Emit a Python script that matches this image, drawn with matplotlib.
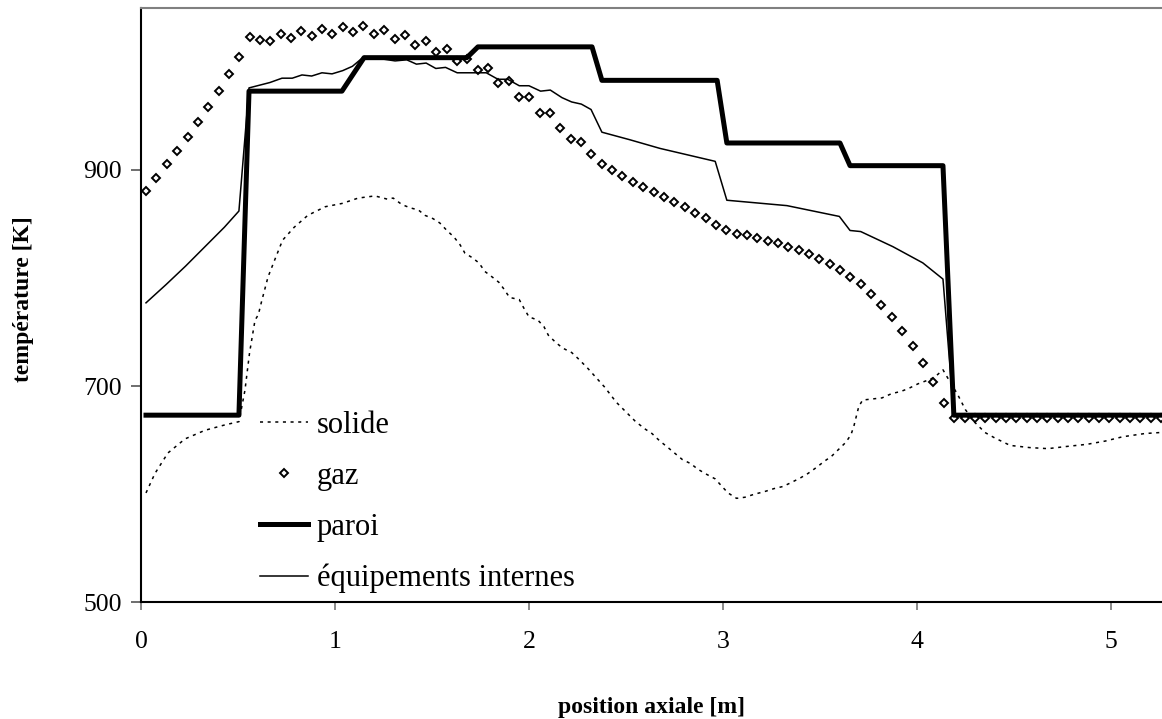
import matplotlib
matplotlib.use("Agg")
import matplotlib.pyplot as plt

plt.rcParams['font.family'] = ['Liberation Serif', 'DejaVu Serif']

# position axiale [m] et températures [K]
x_gaz = [0.026, 0.079, 0.133, 0.186, 0.240, 0.293, 0.346, 0.400, 0.453, 0.507,
         0.560, 0.613, 0.667, 0.720, 0.774, 0.827, 0.880, 0.934, 0.987, 1.041,
         1.094, 1.147, 1.201, 1.254, 1.308, 1.361, 1.414, 1.468, 1.521, 1.575,
         1.628, 1.681, 1.735, 1.788, 1.842, 1.895, 1.948, 2.002, 2.055, 2.109,
         2.162, 2.215, 2.269, 2.322, 2.376, 2.429, 2.482, 2.536, 2.589, 2.643,
         2.696, 2.749, 2.803, 2.856, 2.910, 2.963, 3.016, 3.070, 3.123, 3.177,
         3.230, 3.283, 3.337, 3.390, 3.444, 3.497, 3.550, 3.604, 3.657, 3.711,
         3.764, 3.817, 3.871, 3.924, 3.978, 4.031, 4.084, 4.138, 4.191, 4.245,
         4.298, 4.351, 4.405, 4.458, 4.512, 4.565, 4.618, 4.672, 4.725, 4.779,
         4.832, 4.885, 4.939, 4.992, 5.046, 5.099, 5.152, 5.206, 5.259]
t_gaz = [881, 893, 906, 918, 931, 944, 958, 973, 989, 1005,
         1023, 1020, 1019, 1026, 1022, 1029, 1024, 1031, 1026, 1032,
         1028, 1033, 1026, 1030, 1021, 1025, 1016, 1019, 1009, 1012,
         1001, 1003, 993, 994, 981, 982, 968, 968, 953, 953,
         939, 929, 926, 915, 906, 900, 894, 889, 884, 880,
         875, 870, 866, 860, 856, 849, 844, 841, 840, 837,
         834, 832, 829, 826, 822, 818, 813, 807, 801, 794,
         785, 775, 764, 751, 737, 721, 704, 684, 670, 670,
         670, 670, 670, 670, 670, 670, 670, 670, 670, 670,
         670, 670, 670, 670, 670, 670, 670, 670, 670]

x_solide = [0.026, 0.072, 0.139, 0.227, 0.33, 0.433, 0.505, 0.536, 0.56, 0.588,
            0.605, 0.62, 0.655, 0.69, 0.73, 0.79, 0.86, 0.95, 1.036, 1.12,
            1.206, 1.27, 1.30, 1.345, 1.387, 1.43, 1.464, 1.505, 1.54, 1.577,
            1.613, 1.644, 1.67, 1.706, 1.742, 1.773, 1.81, 1.845, 1.87, 1.90,
            1.95, 1.974, 2.0, 2.046, 2.077, 2.10, 2.14, 2.175, 2.22, 2.25,
            2.30, 2.35, 2.39, 2.45, 2.5, 2.55, 2.6, 2.634, 2.675, 2.71,
            2.75, 2.79, 2.835, 2.87, 2.918, 2.96, 2.995, 3.026, 3.07, 3.113,
            3.165, 3.21, 3.263, 3.31, 3.356, 3.40, 3.438, 3.485, 3.52, 3.56,
            3.60, 3.634, 3.66, 3.675, 3.686, 3.70, 3.72, 3.77, 3.82, 3.87,
            3.918, 3.96, 4.005, 4.05, 4.09, 4.134, 4.16, 4.21, 4.25, 4.30,
            4.35, 4.40, 4.48, 4.58, 4.675, 4.77, 4.876, 4.97, 5.06, 5.175, 5.26]
t_solide = [601, 619, 638, 651, 659, 664, 667, 696, 731, 761,
            766, 777, 801, 817, 835, 847, 858, 866, 869, 874,
            876, 873, 874, 868, 865, 863, 858, 855, 851, 844,
            838, 831, 823, 819, 814, 806, 801, 796, 790, 782,
            780, 772, 764, 761, 755, 747, 740, 735, 731, 726,
            717, 707, 699, 685, 676, 667, 660, 656, 649, 644,
            638, 632, 628, 623, 618, 614, 607, 601, 596, 597,
            600, 602, 605, 607, 611, 615, 619, 625, 630, 635,
            642, 648, 655, 663, 671, 681, 687, 688, 689, 693,
            695, 698, 702, 705, 708, 715, 707, 692, 678, 666,
            657, 652, 645, 643, 642, 644, 646, 649, 653, 656, 657]

x_paroi = [0.026, 0.505, 0.557, 1.036, 1.15, 1.68, 1.737, 2.325,
           2.376, 2.97, 3.02, 3.603, 3.655, 4.134, 4.19, 5.26]
t_paroi = [673, 673, 973, 973, 1004, 1004, 1014, 1014,
           983, 983, 925, 925, 904, 904, 673, 673]

x_equip = [0.026, 0.13, 0.23, 0.33, 0.43, 0.505, 0.557, 0.665, 0.727, 0.78,
           0.83, 0.88, 0.933, 0.985, 1.04, 1.09, 1.15, 1.2, 1.31, 1.37,
           1.42, 1.47, 1.52, 1.57, 1.63, 1.78, 1.84, 1.89, 1.95, 2.0,
           2.06, 2.11, 2.17, 2.22, 2.27, 2.32, 2.376, 2.52, 2.675, 2.96,
           3.02, 3.33, 3.60, 3.655, 3.71, 3.876, 4.03, 4.134, 4.19, 5.26]
t_equip = [777, 794, 811, 829, 847, 862, 976, 981, 985, 985,
           988, 987, 990, 989, 992, 996, 1005, 1004, 1001, 1002,
           998, 999, 994, 995, 990, 990, 984, 984, 978, 978,
           973, 974, 967, 963, 961, 956, 935, 928, 920, 908,
           872, 867, 857, 844, 843, 829, 814, 799, 673, 673]

fig = plt.figure(figsize=(11.62, 7.19), dpi=100)
ax = fig.add_axes([0.1213, 0.1627, 0.8787, 0.8262])

ax.plot(x_solide, t_solide, color='black', lw=1.1, linestyle=(0, (2, 3)), label='solide')
ax.plot(x_gaz, t_gaz, linestyle='none', marker='D', markersize=4.3,
        markerfacecolor='white', markeredgecolor='black', markeredgewidth=1.4, label='gaz')
ax.plot(x_paroi, t_paroi, color='black', lw=3.6, label='paroi')
ax.plot(x_equip, t_equip, color='black', lw=1.1, label='équipements internes')

ax.set_xlim(0, 5.263)
ax.set_ylim(500, 1050)
ax.set_xticks([0, 1, 2, 3, 4, 5])
ax.set_yticks([500, 700, 900])

ax.spines['right'].set_visible(False)
ax.spines['top'].set_color('#808080')
ax.spines['top'].set_linewidth(1.5)
ax.spines['left'].set_linewidth(1.5)
ax.spines['bottom'].set_linewidth(1.5)

ax.tick_params(axis='x', direction='out', length=6, width=1.3, color='#808080',
               labelsize=18.5, pad=15)
ax.tick_params(axis='y', direction='out', length=7, width=1.2, color='#555555',
               labelsize=18.5, pad=7)

ax.set_xlabel('position axiale [m]', fontsize=17, fontweight='bold')
ax.set_ylabel('température [K]', fontsize=17, fontweight='bold')
ax.xaxis.set_label_coords(0.5, -0.16)
ax.yaxis.set_label_coords(-0.105, 0.51)

ax.legend(loc='upper left', bbox_to_anchor=(0.117, 0.322), frameon=False,
          fontsize=22, handlelength=1.55, handletextpad=0.3, labelspacing=0.72,
          numpoints=1, borderpad=0, borderaxespad=0)

fig.savefig('out.png', dpi=100)
